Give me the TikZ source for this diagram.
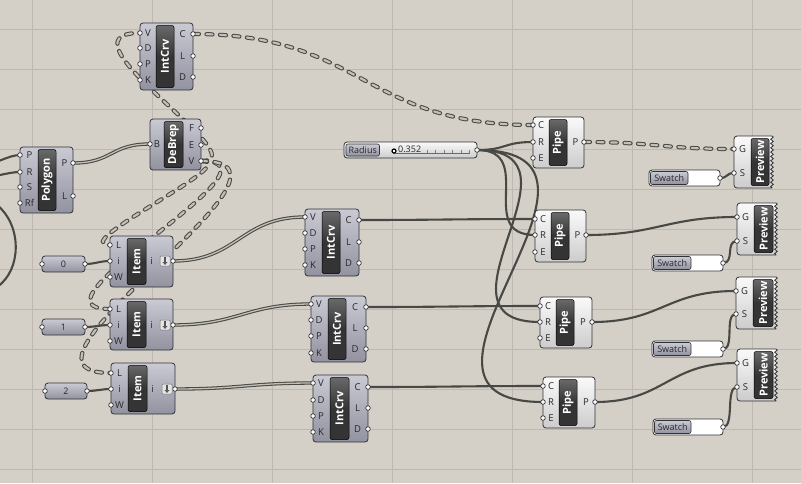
\documentclass[tikz,border=0pt]{standalone}
\usepackage{fontspec}
\setmainfont{Open Sans}
\usetikzlibrary{fit,decorations.pathmorphing,arrows.meta}
\pgfdeclarelayer{gridlayer}
\pgfdeclarelayer{wirelayer}
\pgfsetlayers{gridlayer,wirelayer,main}

\definecolor{canvas}{RGB}{212,208,200}
\definecolor{gridc}{RGB}{189,185,178}
\definecolor{bodytop}{RGB}{202,202,212}
\definecolor{bodybot}{RGB}{146,146,160}
\definecolor{lighttop}{RGB}{250,250,250}
\definecolor{lightbot}{RGB}{204,204,204}
\definecolor{edge}{RGB}{50,50,54}
\definecolor{darkb}{RGB}{52,52,52}
\definecolor{darkbtop}{RGB}{105,105,105}
\definecolor{wire}{RGB}{72,72,68}
\definecolor{wirein}{RGB}{194,192,184}
\definecolor{lbl}{RGB}{40,40,40}
\definecolor{iconfill}{RGB}{228,228,228}
\definecolor{iconedge}{RGB}{120,120,120}

\tikzset{
 body/.style={draw=edge, line width=0.8pt, rounded corners=3pt, top color=bodytop, bottom color=bodybot, inner sep=0pt},
 lbody/.style={draw=edge, line width=0.8pt, rounded corners=3pt, top color=lighttop, bottom color=lightbot, inner sep=0pt},
 wbody/.style={draw=edge, line width=0.8pt, rounded corners=3pt, fill=white, inner sep=0pt},
 lblbox/.style={draw=edge, line width=0.6pt, rounded corners=2pt, top color=bodytop, bottom color=bodybot, inner sep=0pt},
 dbox/.style={draw=black, line width=0.5pt, rounded corners=2pt, top color=darkbtop, bottom color=darkb, middle color=darkb, inner sep=0pt},
 ttl/.style={rotate=90, text=white, font=\fontsize{11}{11}\selectfont\bfseries, inner sep=0pt},
 plbl/.style={text=lbl, font=\fontsize{9.5}{9.5}\selectfont, inner sep=0pt},
 vlbl/.style={text=lbl, font=\fontsize{9}{9}\selectfont, inner sep=0pt},
 grip/.style={draw=edge, fill=white, line width=0.7pt},
 wsingle/.style={draw=wire, line width=2.1pt},
 wlistout/.style={draw=wire, line width=3.4pt},
 wlistin/.style={draw=wirein, line width=1.3pt},
 wtreeout/.style={draw=wire, line width=4.2pt, line cap=round, dash pattern=on 6pt off 7.5pt},
 wtreein/.style={draw=wirein, line width=2.2pt, line cap=round, dash pattern=on 6pt off 7.5pt},
 gridline/.style={draw=gridc, line width=0.9pt},
}

% component: name, x1, y1, x2, y2, box x1, box x2, title, body style
\newcommand\gcomp[9]{%
  \node[#9, fit={(#2,#3) (#4,#5)}] (#1) {};
  \node[dbox, fit={(#6,#3+2.5) (#7,#5-2.5)}] (#1-t) {};
  \node[ttl] at (#1-t.center) {#8};
}
% port: comp, id, x, y, label x, label
\newcommand\gport[6]{%
  \coordinate (#1-#2) at (#3,#4);
  \node[plbl] at (#5,#4) {#6};
  \draw[grip] (#3,#4) circle (2.3pt);
}
\newcommand\arrowicon[2]{%
  \draw[draw=iconedge, fill=iconfill, line width=0.5pt, rounded corners=1pt] (#1-5,#2-5) rectangle (#1+5,#2+5);
  \draw[draw=lbl!80, line width=1.1pt, -{Triangle[length=2.8pt,width=5pt]}] (#1,#2-3.8) -- (#1,#2+3.8);
}
% number: name, x1, y1, x2, y2, value
\newcommand\gnum[6]{%
  \node[body, fit={(#2,#3) (#4,#5)}] (#1) {};
  \node[vlbl] at (#1.center) {#6};
  \coordinate (#1-o) at (#4,#3/2+#5/2);
  \draw[grip] (#2,#3/2+#5/2) circle (2.3pt);
  \draw[grip] (#1-o) circle (2.3pt);
}
% swatch: name, x1, y1, x2, y2, label end
\newcommand\gswatch[6]{%
  \node[wbody, fit={(#2,#3) (#4,#5)}] (#1) {};
  \node[lblbox, fit={(#2+1.5,#3+1.5) (#6,#5-1.5)}] (#1-l) {};
  \node[vlbl] at (#1-l.center) {Swatch};
  \coordinate (#1-o) at (#4,#3/2+#5/2);
  \draw[grip] (#1-o) circle (2.3pt);
}
% preview: name, x1, y1, x2, y2, box x1, box x2
\newcommand\gpreview[7]{%
  \path[lbody, sharp corners] (#2+3,#3) -- (#4,#3)
    decorate[decoration={zigzag,segment length=4.3pt,amplitude=1.3pt}] {-- (#4,#5)}
    -- (#2+3,#5) arc[start angle=270,end angle=180,radius=3pt]
    -- (#2,#3+3) arc[start angle=180,end angle=90,radius=3pt] -- cycle;
  \node[fit={(#2,#3) (#4,#5)}, inner sep=0pt] (#1) {};
  \node[dbox, fit={(#6,#3+2.5) (#7,#5-2.5)}] (#1-t) {};
  \node[ttl] at (#1-t.center) {Preview};
}
\newcommand\treewire[4]{%
  \draw[wtreeout] (#1) .. controls +(#3,0) and +(-#4,0) .. (#2);
  \draw[wtreein] (#1) .. controls +(#3,0) and +(-#4,0) .. (#2);
}
\newcommand\listwire[4]{%
  \draw[wlistout] (#1) .. controls +(#3,0) and +(-#4,0) .. (#2);
  \draw[wlistin] (#1) .. controls +(#3,0) and +(-#4,0) .. (#2);
}
\newcommand\swire[4]{%
  \draw[wsingle] (#1) .. controls +(#3,0) and +(-#4,0) .. (#2);
}

\begin{document}
\begin{tikzpicture}[x=1pt,y=-1pt]
\useasboundingbox (0,0) rectangle (801,483);

\begin{pgfonlayer}{gridlayer}
  \fill[canvas] (0,0) rectangle (801,483);
  \foreach \gx in {32.7,152.7,...,800} \draw[gridline] (\gx,0) -- (\gx,483);
  \foreach \gy in {29,69,...,483} \draw[gridline] (0,\gy) -- (801,\gy);
\end{pgfonlayer}

% ---------- IntCrv (top)
\gcomp{ic0}{140}{23}{193}{90}{156}{174}{IntCrv}{body}
\gport{ic0}{V}{140}{33}{148}{V}
\gport{ic0}{D}{140}{48}{148}{D}
\gport{ic0}{P}{140}{64}{148}{P}
\gport{ic0}{K}{140}{80}{148}{K}
\gport{ic0}{C}{193}{34}{182.5}{C}
\gport{ic0}{L}{193}{56}{182.5}{L}
\gport{ic0}{Do}{193}{77}{182.5}{D}

% ---------- Polygon
\gcomp{pg}{20}{147}{73}{213}{38}{56}{Polygon}{body}
\gport{pg}{P}{20}{155}{29.5}{P}
\gport{pg}{R}{20}{172}{29.5}{R}
\gport{pg}{S}{20}{187}{29.5}{S}
\gport{pg}{Rf}{20}{203}{29.5}{Rf}
\gport{pg}{Po}{73}{163}{64.5}{P}
\gport{pg}{L}{73}{196}{64.5}{L}

% ---------- DeBrep
\gcomp{db}{150}{119}{201}{170}{164}{183}{DeBrep}{body}
\gport{db}{B}{150}{144}{157}{B}
\gport{db}{F}{201}{128}{191.5}{F}
\gport{db}{E}{201}{145}{191.5}{E}
\gport{db}{V}{201}{161}{191.5}{V}

% ---------- Item components
\gcomp{it0}{110}{236}{173}{287}{127}{146}{Item}{body}
\gport{it0}{L}{110}{245}{118.5}{L}
\gport{it0}{i}{110}{261}{118.5}{i}
\gport{it0}{W}{110}{277}{118.5}{W}
\gport{it0}{o}{173}{261}{151.5}{i}
\arrowicon{165}{261}

\gcomp{it1}{110}{299}{173}{350}{127}{146}{Item}{body}
\gport{it1}{L}{110}{309}{118.5}{L}
\gport{it1}{i}{110}{325}{118.5}{i}
\gport{it1}{W}{110}{341}{118.5}{W}
\gport{it1}{o}{173}{325}{151.5}{i}
\arrowicon{165}{325}

\gcomp{it2}{111}{363}{175}{414}{128}{147}{Item}{body}
\gport{it2}{L}{111}{373}{119.5}{L}
\gport{it2}{i}{111}{389}{119.5}{i}
\gport{it2}{W}{111}{405}{119.5}{W}
\gport{it2}{o}{175}{389}{152.5}{i}
\arrowicon{167}{389}

% ---------- numbers
\gnum{n0}{42}{256}{85}{272}{0}
\gnum{n1}{42}{319}{85}{335}{1}
\gnum{n2}{45}{383}{87}{399}{2}

% ---------- IntCrv (middle column)
\gcomp{ic1}{305}{209}{359}{276}{322}{340}{IntCrv}{body}
\gport{ic1}{V}{305}{217}{313}{V}
\gport{ic1}{D}{305}{233}{313}{D}
\gport{ic1}{P}{305}{249}{313}{P}
\gport{ic1}{K}{305}{265}{313}{K}
\gport{ic1}{C}{359}{220}{348.5}{C}
\gport{ic1}{L}{359}{242}{348.5}{L}
\gport{ic1}{Do}{359}{263}{348.5}{D}

\gcomp{ic2}{311}{296}{366}{362}{328}{346}{IntCrv}{body}
\gport{ic2}{V}{311}{304}{319}{V}
\gport{ic2}{D}{311}{320}{319}{D}
\gport{ic2}{P}{311}{336}{319}{P}
\gport{ic2}{K}{311}{353}{319}{K}
\gport{ic2}{C}{366}{307}{355}{C}
\gport{ic2}{L}{366}{328}{355}{L}
\gport{ic2}{Do}{366}{349}{355}{D}

\gcomp{ic3}{313}{375}{368}{442}{330}{349}{IntCrv}{body}
\gport{ic3}{V}{313}{383}{321}{V}
\gport{ic3}{D}{313}{400}{321}{D}
\gport{ic3}{P}{313}{416}{321}{P}
\gport{ic3}{K}{313}{432}{321}{K}
\gport{ic3}{C}{368}{387}{357.5}{C}
\gport{ic3}{L}{368}{408}{357.5}{L}
\gport{ic3}{Do}{368}{429}{357.5}{D}

% ---------- Radius slider
\node[lbody, fit={(344,142) (477,158)}] (rad) {};
\node[lblbox, fit={(346,144) (379.5,156)}] (rad-l) {};
\node[vlbl] at (rad-l.center) {Radius};
\draw[draw=lbl!70, line width=0.5pt] (393,153) -- (470,153);
\foreach \tx in {427,435.5,...,470} \draw[draw=lbl!60, line width=0.5pt] (\tx,153) -- (\tx,149.5);
\draw[draw=black, fill=white, line width=1.2pt] (394,151) circle (2pt);
\node[vlbl, anchor=west] at (398,149) {0.352};
\coordinate (rad-o) at (477,150);
\draw[grip] (rad-o) circle (2.3pt);

% ---------- Pipes
\gcomp{pp1}{533}{117}{584}{168}{549}{567}{Pipe}{lbody}
\gport{pp1}{C}{533}{125}{541}{C}
\gport{pp1}{R}{533}{142}{541}{R}
\gport{pp1}{E}{533}{158}{541}{E}
\gport{pp1}{P}{584}{142}{575.5}{P}

\gcomp{pp2}{535}{210}{586}{262}{551}{569}{Pipe}{lbody}
\gport{pp2}{C}{535}{219}{543}{C}
\gport{pp2}{R}{535}{235}{543}{R}
\gport{pp2}{E}{535}{252}{543}{E}
\gport{pp2}{P}{586}{235}{577.5}{P}

\gcomp{pp3}{540}{297}{592}{348}{556}{574}{Pipe}{lbody}
\gport{pp3}{C}{540}{306}{548}{C}
\gport{pp3}{R}{540}{322}{548}{R}
\gport{pp3}{E}{540}{338}{548}{E}
\gport{pp3}{P}{592}{322}{583}{P}

\gcomp{pp4}{543}{377}{595}{428}{559}{577}{Pipe}{lbody}
\gport{pp4}{C}{543}{386}{551}{C}
\gport{pp4}{R}{543}{402}{551}{R}
\gport{pp4}{E}{543}{418}{551}{E}
\gport{pp4}{P}{595}{402}{586}{P}

% ---------- Previews and swatches
\gpreview{pv1}{734}{136}{772}{188}{751}{769}
\gport{pv1}{G}{734}{149}{742.5}{G}
\gport{pv1}{S}{734}{173}{742.5}{S}
\gpreview{pv2}{737}{203}{776}{255}{754}{773}
\gport{pv2}{G}{737}{217}{745.5}{G}
\gport{pv2}{S}{737}{241}{745.5}{S}
\gpreview{pv3}{736}{277}{776}{329}{753}{773}
\gport{pv3}{G}{736}{291}{744.5}{G}
\gport{pv3}{S}{736}{314}{744.5}{S}
\gpreview{pv4}{737}{349}{776}{401}{754}{773}
\gport{pv4}{G}{737}{363}{745.5}{G}
\gport{pv4}{S}{737}{387}{745.5}{S}

\gswatch{sw1}{649}{170}{720}{186}{688}
\gswatch{sw2}{652}{255}{723}{271}{691}
\gswatch{sw3}{652}{341}{723}{357}{691}
\gswatch{sw4}{653}{419}{723}{435}{691}

% ---------- wires
\coordinate (extP) at (-20,166);
\coordinate (extR) at (-20,178);
\coordinate (extA) at (-3,205);
\coordinate (extB) at (-3,287);
\begin{pgfonlayer}{wirelayer}
  \treewire{ic0-C}{pp1-C}{170}{170}
  \treewire{db-V}{ic0-V}{60}{90}
  \treewire{db-V}{it0-L}{45}{45}
  \treewire{db-V}{it1-L}{95}{95}
  \treewire{db-V}{it2-L}{130}{130}
  \treewire{pp1-P}{pv1-G}{70}{70}
  \listwire{pg-Po}{db-B}{40}{40}
  \listwire{it0-o}{ic1-V}{65}{65}
  \listwire{it1-o}{ic2-V}{65}{65}
  \listwire{it2-o}{ic3-V}{65}{65}
  \swire{extP}{pg-P}{12}{12}
  \swire{extR}{pg-R}{12}{12}
  \draw[wsingle] (extA) .. controls (22,225) and (22,270) .. (extB);
  \swire{n0-o}{it0-i}{10}{10}
  \swire{n1-o}{it1-i}{10}{10}
  \swire{n2-o}{it2-i}{10}{10}
  \swire{ic1-C}{pp2-C}{80}{80}
  \swire{ic2-C}{pp3-C}{80}{80}
  \swire{ic3-C}{pp4-C}{80}{80}
  \swire{rad-o}{pp1-R}{30}{30}
  \swire{rad-o}{pp2-R}{60}{60}
  \swire{rad-o}{pp3-R}{120}{120}
  \swire{rad-o}{pp4-R}{180}{180}
  \swire{pp2-P}{pv2-G}{70}{70}
  \swire{pp3-P}{pv3-G}{70}{70}
  \swire{pp4-P}{pv4-G}{70}{70}
  \swire{sw1-o}{pv1-S}{8}{8}
  \swire{sw2-o}{pv2-S}{12}{12}
  \swire{sw3-o}{pv3-S}{12}{12}
  \swire{sw4-o}{pv4-S}{12}{12}
\end{pgfonlayer}
\end{tikzpicture}
\end{document}
